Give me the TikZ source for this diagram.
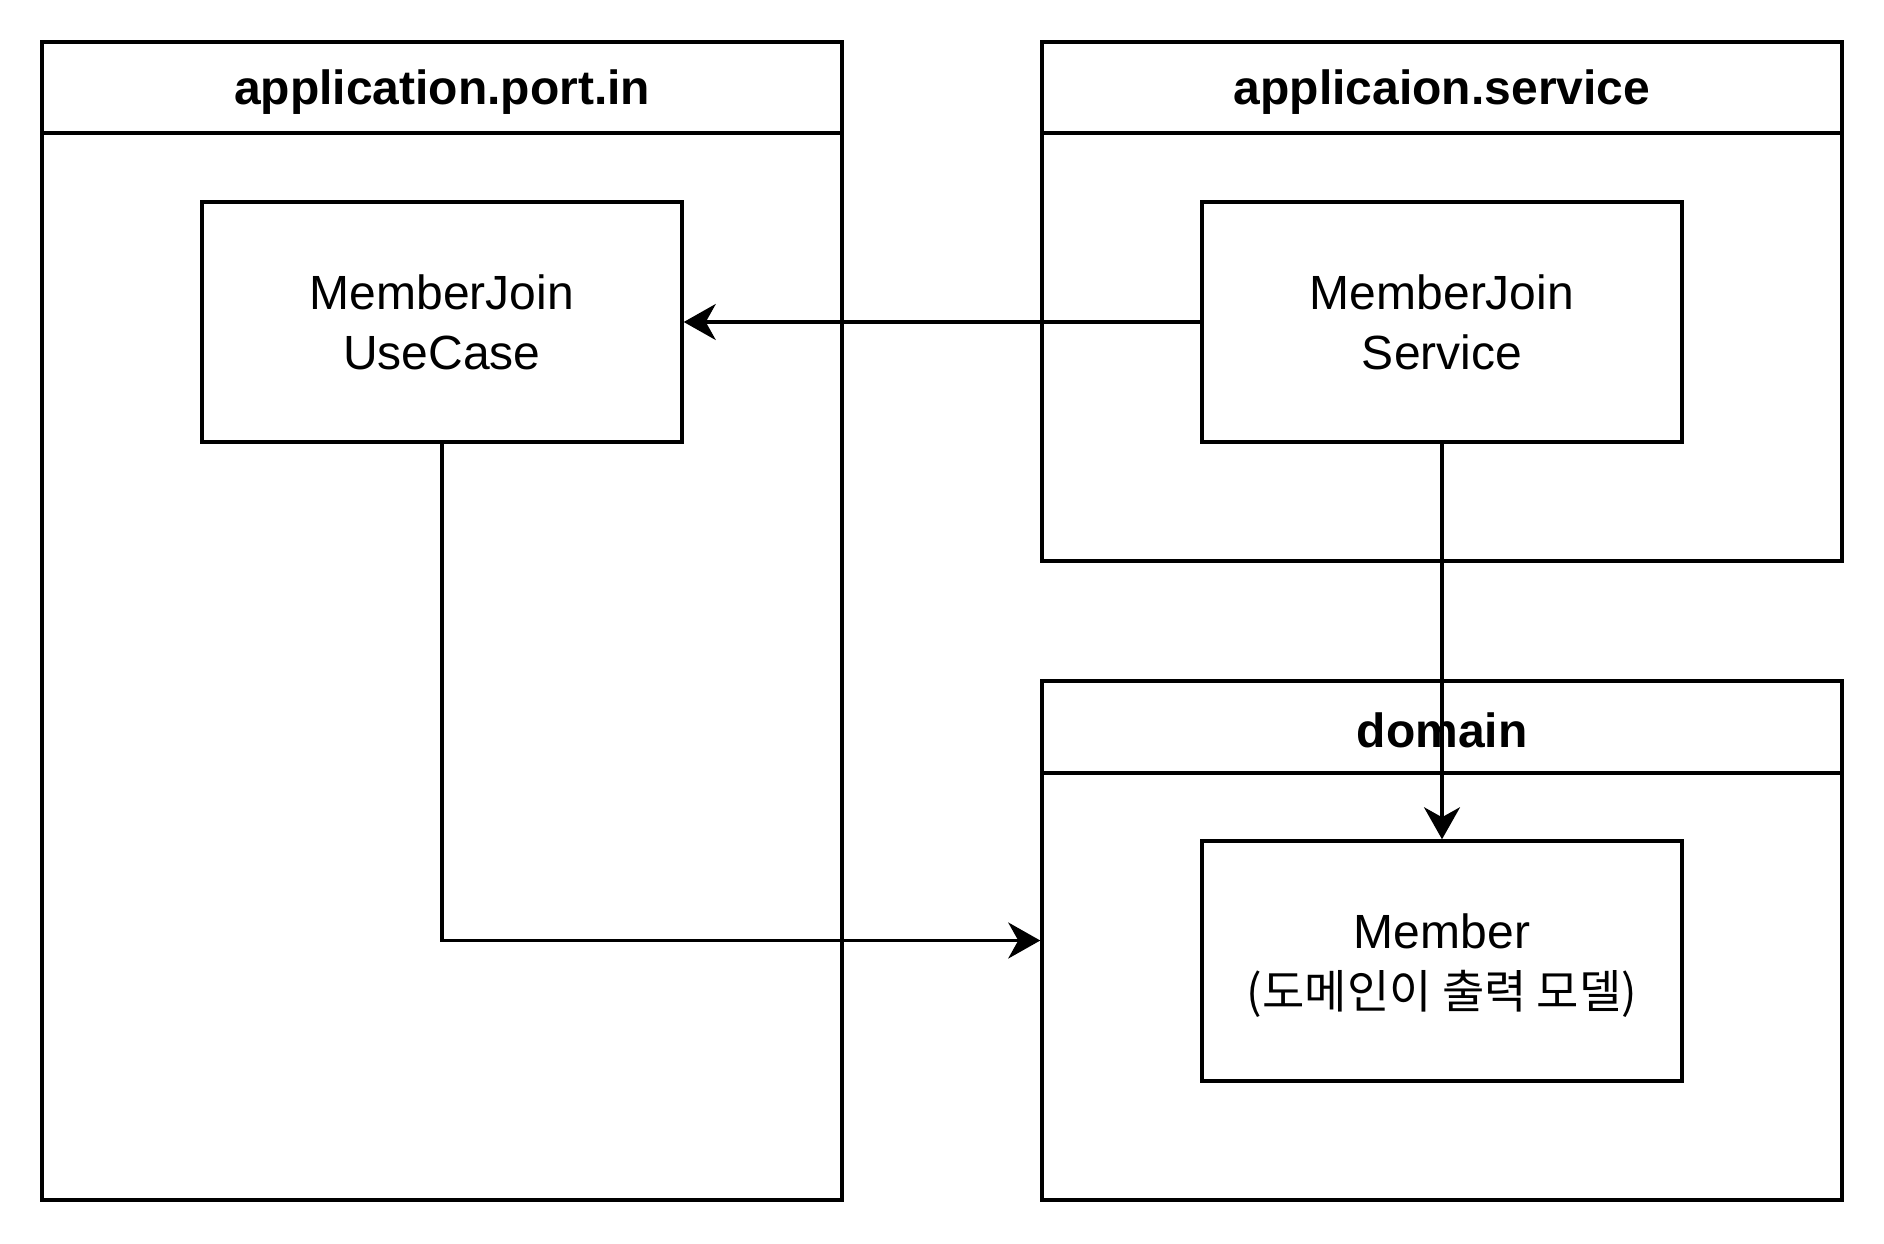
\documentclass[tikz,border=0pt]{standalone}
\usepackage{fontspec}
\setmainfont{Liberation Sans}
\newfontfamily\krfont{Noto Sans CJK KR}
\usetikzlibrary{arrows.meta}
\begin{document}
\begin{tikzpicture}[x=1pt,y=-1pt,
  lw/.style={line width=3.5pt},
  container/.style={draw, lw, rectangle, minimum width=800pt, inner sep=0pt},
  header/.style={draw, lw, rectangle, minimum width=800pt, minimum height=91pt, inner sep=0pt,
    font=\fontsize{48}{60}\selectfont\bfseries},
  classbox/.style={draw, lw, rectangle, minimum width=480pt, minimum height=240pt, inner sep=0pt,
    align=center, font=\fontsize{48}{60}\selectfont},
  conn/.style={lw, -{Stealth[length=32pt, width=36pt, inset=10pt]}}
]
\useasboundingbox (0,0) rectangle (1884,1244);
% containers
\node[container, minimum height=1158pt] (portin) at (442,621) {};
\node[header] (portinH) at (442,87.5) {};
\node[font=\fontsize{48}{60}\selectfont\bfseries] (portinT) at (442,92) {application.port.in};
\node[container, minimum height=519pt] (svc) at (1442,301.5) {};
\node[header] (svcH) at (1442,87.5) {};
\node[font=\fontsize{48}{60}\selectfont\bfseries] (svcT) at (1442,92) {applicaion.service};
\node[container, minimum height=519pt] (dom) at (1442,940.5) {};
\node[header, minimum height=92pt] (domH) at (1442,727) {};
\node[font=\fontsize{48}{60}\selectfont\bfseries] (domT) at (1442,730) {domain};
% classes
\node[classbox] (uc) at (442,322) {MemberJoin\\UseCase};
\node[classbox] (ms) at (1442,322) {MemberJoin\\Service};
\node[classbox] (mem) at (1442,961) {};
\node[align=center, font=\fontsize{48}{60}\selectfont] (memT) at (1442,966) {Member\\{\krfont\fontsize{46}{60}\selectfont (도메인이 출력 모델)}};
% connectors
\draw[conn] (ms.west) -- (uc.east);
\draw[conn] (ms.south) -- (mem.north);
\draw[conn] (uc.south) |- (dom.west);
\end{tikzpicture}
\end{document}
